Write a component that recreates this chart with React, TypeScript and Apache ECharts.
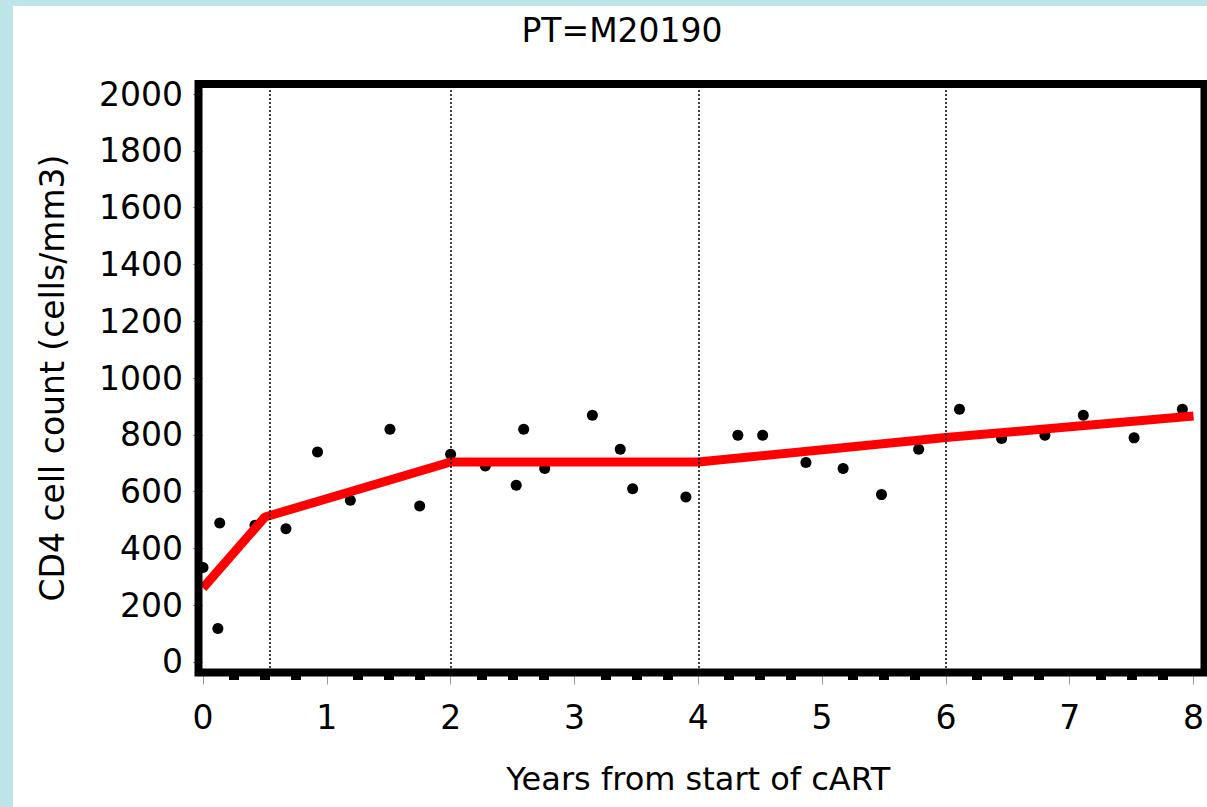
import React, { useEffect, useRef } from "react";
import * as echarts from "echarts";

// CD4 measurements (years since cART start, cells/mm3)
const years = [
  0, 0.12, 0.135, 0.42, 0.67, 0.925, 1.19, 1.51, 1.75, 2.0,
  2.28, 2.53, 2.59, 2.76, 3.145, 3.37, 3.47, 3.9, 4.32, 4.52,
  4.87, 5.17, 5.48, 5.78, 6.11, 6.45, 6.8, 7.11, 7.52, 7.91,
];
const cd4 = [
  332, 117, 489, 481, 469, 739, 569, 819, 549, 731,
  690, 622, 819, 681, 869, 749, 610, 581, 798, 798,
  702, 681, 589, 749, 890, 787, 798, 869, 789, 890,
];

// Piecewise-linear fitted trajectory
const fitYears = [0, 0.5, 2, 4, 6, 8];
const fitCd4 = [260, 510, 704, 704, 790, 866];

// Vertical reference lines
const markerYears = [0.54, 2, 4, 6];

// Axis ticks
const yTickValues = [0, 200, 400, 600, 800, 1000, 1200, 1400, 1600, 1800, 2000];
const xMin = 0;
const xMax = 8;

const titleText = "PT=M20190";
const xName = "Years from start of cART";
const yName = "CD4 cell count (cells/mm3)";

const FONT = "DejaVu Sans";

export default function App() {
  const ref = useRef<HTMLDivElement>(null);

  useEffect(() => {
    if (!ref.current) return;
    const chart = echarts.init(ref.current, null, { renderer: "svg" });

    const gridLeft = 203;
    const gridTop = 88;
    const gridRight = 1207 - 1199;
    const gridBottom = 807 - 668;

    chart.setOption({
      animation: false,
      backgroundColor: "transparent",
      textStyle: { fontFamily: FONT, color: "#000" },
      title: {
        text: titleText,
        left: 617,
        top: 9,
        textAlign: "center",
        textStyle: { fontFamily: FONT, fontSize: 33, fontWeight: "normal", color: "#000" },
      },
      grid: { left: gridLeft, right: gridRight, top: gridTop, bottom: gridBottom },
      xAxis: {
        type: "value",
        min: xMin,
        max: xMax,
        interval: 1,
        offset: 4.5,
        name: xName,
        nameLocation: "middle",
        nameGap: 90,
        nameMoveOverlap: false,
        nameTextStyle: { fontFamily: FONT, fontSize: 32, color: "#000" },
        axisLine: { show: false, onZero: false },
        axisTick: { show: true, length: 12, lineStyle: { color: "#999", width: 1 } },
        minorTick: { show: true, splitNumber: 4, length: 7.5, lineStyle: { color: "#000", width: 10 } },
        axisLabel: { margin: 28, fontFamily: FONT, fontSize: 33, color: "#000" },
        splitLine: { show: false },
      },
      yAxis: {
        type: "value",
        min: -22,
        max: 2022,
        name: yName,
        nameLocation: "middle",
        nameGap: 134,
        nameMoveOverlap: false,
        nameTextStyle: { fontFamily: FONT, fontSize: 33, color: "#000" },
        axisLine: { show: false, onZero: false },
        axisTick: { show: true, length: 10, customValues: yTickValues, lineStyle: { color: "#999", width: 1 } },
        axisLabel: {
          margin: 20,
          fontFamily: FONT,
          fontSize: 33,
          color: "#000",
          customValues: yTickValues,
          formatter: (v: number) => String(v),
        },
        splitLine: { show: false },
      },
      graphic: [
        {
          type: "rect",
          z: 100,
          silent: true,
          shape: { x: 198.5, y: 84, width: 1006, height: 588.5 },
          style: { fill: "none", stroke: "#000", lineWidth: 8 },
        },
      ],
      series: [
        {
          type: "scatter",
          symbol: "circle",
          symbolSize: 11,
          itemStyle: { color: "#000", opacity: 1 },
          data: years.map((x, i) => [x, cd4[i]]),
          markLine: {
            silent: true,
            symbol: ["none", "none"],
            label: { show: false },
            lineStyle: { color: "#000", width: 1.5, type: [2, 2] },
            data: markerYears.map((x) => ({ xAxis: x })),
          },
        },
        {
          type: "line",
          showSymbol: false,
          symbol: "none",
          lineStyle: { color: "#ff0000", width: 9 },
          data: fitYears.map((x, i) => [x, fitCd4[i]]),
        },
      ],
    });

    return () => chart.dispose();
  }, []);

  return (
    <div
      style={{
        position: "fixed",
        left: 0,
        top: 0,
        width: 1207,
        height: 807,
        background: "#bde4e6",
        overflow: "hidden",
      }}
    >
      <div style={{ position: "absolute", left: 13, top: 6, right: 0, bottom: 0, background: "#fff" }} />
      <div ref={ref} style={{ position: "absolute", left: 0, top: 0, width: 1207, height: 807 }} />
    </div>
  );
}
